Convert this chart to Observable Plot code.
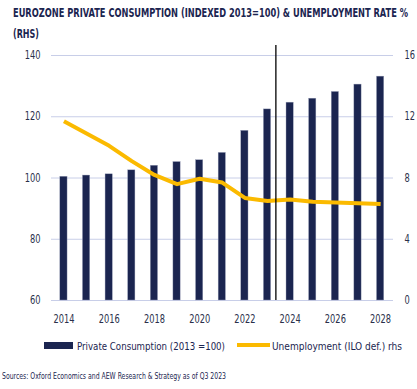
<!DOCTYPE html>
<html>
<head>
<meta charset="utf-8">
<script src="https://cdn.jsdelivr.net/npm/d3@7"></script>
<script src="https://cdn.jsdelivr.net/npm/@observablehq/plot@0.6"></script>
<style>
  html, body { margin: 0; padding: 0; background: #fff; }
  #wrap { position: relative; width: 417px; height: 389px; overflow: hidden;
          font-family: "DejaVu Sans Condensed", "DejaVu Sans", sans-serif; color: #1b2550; }
  .fit { position: absolute; white-space: nowrap; transform-origin: 0 0; display: inline-block; }
  .t { font-weight: bold; font-size: 12.5px; line-height: 12.5px; color: #1b2550; }
  .lg { font-size: 11px; line-height: 11px; color: #1b2550; }
  .src { font-size: 8px; line-height: 8px; color: #1b2550; }
  #chart { position: absolute; left: 0; top: 45px; }
  .sw { position: absolute; }
</style>
</head>
<body>
<div id="wrap">
  <span class="fit t" id="t1" data-w="395" style="left:13px;top:6.5px;">EUROZONE PRIVATE CONSUMPTION (INDEXED 2013=100) &amp; UNEMPLOYMENT RATE %</span>
  <span class="fit t" id="t2" data-w="26" style="left:13px;top:27.5px;">(RHS)</span>
  <div id="chart"></div>
  <div class="sw" style="left:44px;top:342px;width:29px;height:7px;background:#1b2550;"></div>
  <span class="fit lg" data-w="148" style="left:77px;top:340.7px;">Private Consumption (2013 =100)</span>
  <div class="sw" style="left:237px;top:343.3px;width:33px;height:3.4px;background:#fbba00;"></div>
  <span class="fit lg" data-w="130" style="left:272px;top:340.7px;">Unemployment (ILO def.) rhs</span>
  <span class="fit src" data-w="224" style="left:2px;top:373.2px;">Sources: Oxford Economics and AEW Research &amp; Strategy as of Q3 2023</span>
</div>
<script>
const years = [2014, 2015, 2016, 2017, 2018, 2019, 2020, 2021, 2022, 2023, 2024, 2025, 2026, 2027, 2028];
const consumption = [100.4, 100.8, 101.2, 102.5, 104.0, 105.2, 105.8, 108.2, 115.4, 122.4, 124.6, 125.9, 128.1, 130.5, 133.1];
const unemployment = [11.7, 10.9, 10.1, 9.1, 8.2, 7.6, 7.95, 7.7, 6.7, 6.5, 6.6, 6.45, 6.4, 6.35, 6.3];
const leftTicks = [60, 80, 100, 120, 140];
const rightTicks = [0, 4, 8, 12, 16];
const xTicks = [2014, 2016, 2018, 2020, 2022, 2024, 2026, 2028];
const markerYear = 2023.37;

const data = years.map((y, i) => ({year: y, cons: consumption[i], unemp: unemployment[i]}));
const toLeft = u => 60 + u * 5; // right axis 0..16 -> left 60..140

const chart = Plot.plot({
  width: 417,
  height: 290,
  marginTop: 10,
  marginBottom: 35,
  marginLeft: 51,
  marginRight: 24,
  style: {fontFamily: '"DejaVu Sans Condensed", "DejaVu Sans", sans-serif', fontSize: "11.5px", color: "#2a2f4a", background: "transparent"},
  x: {domain: [2013.45, 2028.57], axis: null},
  y: {domain: [60, 140], axis: null},
  marks: [
    Plot.gridY(leftTicks, {stroke: "#c8cee8", strokeOpacity: 1, strokeWidth: 1}),
    Plot.rectY(data, {x1: d => d.year - 0.16, x2: d => d.year + 0.16, y1: 60, y2: "cons", fill: "#1b2550", stroke: "#9aa0b8", strokeWidth: 0.4}),
    Plot.line(data, {x: "year", y: d => toLeft(d.unemp), stroke: "#fbba00", strokeWidth: 4, strokeLinejoin: "round", strokeLinecap: "butt"}),
    Plot.ruleX([markerYear], {y1: 60, y2: 143.3, stroke: "#000", strokeWidth: 1.3}),
    Plot.axisY({anchor: "left", ticks: leftTicks, label: null, tickSize: 0, tickPadding: 11, fill: "#2a2f4a"}),
    Plot.axisY({anchor: "right", ticks: rightTicks.map(toLeft), label: null, tickFormat: (d) => String((d - 60) / 5), tickSize: 0, tickPadding: 11, textAnchor: "start", fill: "#2a2f4a"}),
    Plot.axisX({ticks: xTicks, label: null, tickFormat: d => String(d), tickSize: 0, tickPadding: 14, fill: "#2a2f4a"})
  ]
});
document.getElementById("chart").appendChild(chart);

// horizontally condense svg texts around their anchor point
const sx = 0.8;
const isNum = v => v != null && /^\s*-?[\d.]+(e-?\d+)?\s*$/i.test(v);
chart.querySelectorAll("text").forEach(t => {
  let x = 0, y = 0;
  const ax = t.getAttribute("x"), ay = t.getAttribute("y");
  if (isNum(ax)) { x = parseFloat(ax); t.setAttribute("x", 0); }
  if (isNum(ay)) { y = parseFloat(ay); t.setAttribute("y", 0); }
  const tr = t.getAttribute("transform") || "";
  t.setAttribute("transform", `${tr} translate(${x},${y}) scale(${sx},1)`);
});

// fit html texts to their measured widths in the reference
document.querySelectorAll(".fit").forEach(el => {
  const w = el.getBoundingClientRect().width;
  const target = +el.dataset.w;
  el.style.transform = `scaleX(${target / w})`;
});
</script>
</body>
</html>
